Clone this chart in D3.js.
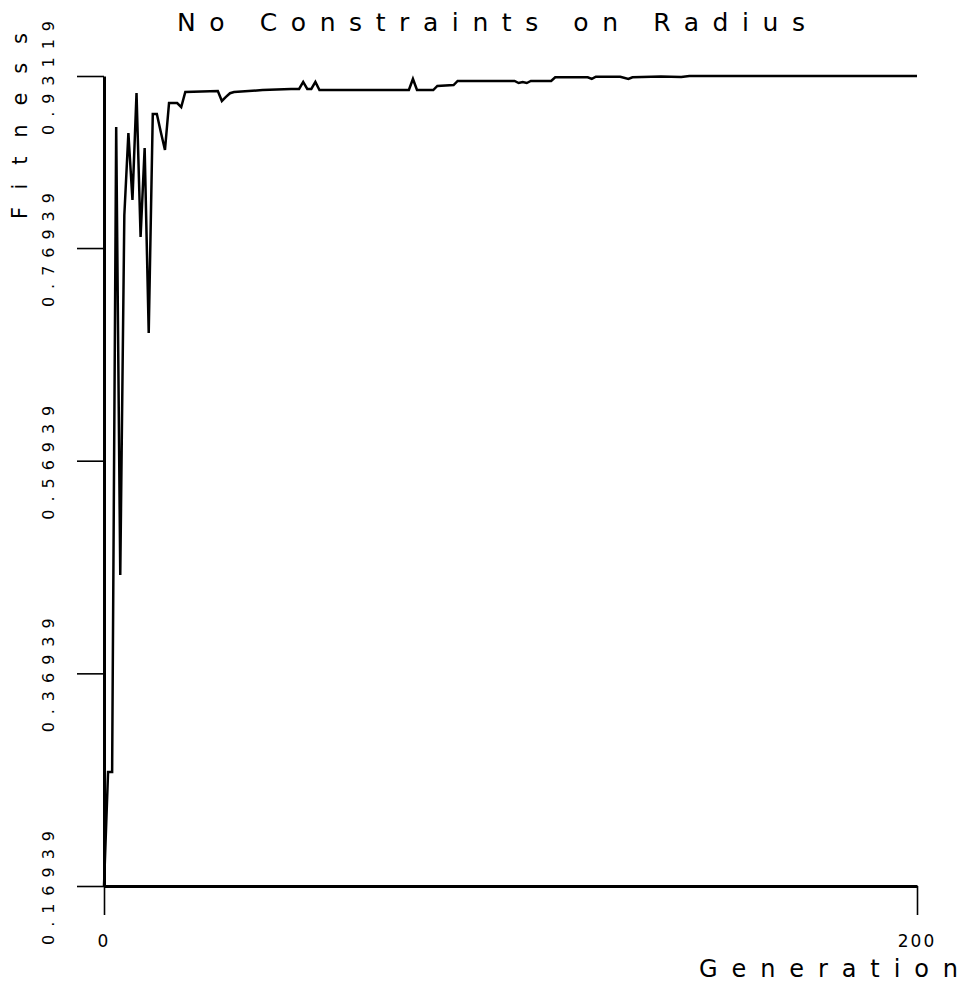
<!DOCTYPE html>
<html>
<head>
<meta charset="utf-8">
<script src="https://cdn.jsdelivr.net/npm/d3@7"></script>
<style>
  body { margin: 0; background: #fff; }
  svg text { font-family: "DejaVu Sans", sans-serif; fill: #000; }
</style>
</head>
<body>
<div class="chart"></div>
<script>
// generation / best fitness
var generations = [0,1,2,3,4,5,6,7,8,9,10,11,12,13,14,15,16,18,19,20,28,29,30,31,32,39,46,48,49,50,51,52,53,
                   75,76,77,81,82,86,87,101,102,103,104,105,110,111,119,120,121,127,129,130,137,142,144,200];
var fitness = [0.1694,0.2766,0.2766,0.8832,0.4619,0.8000,0.8776,0.8146,0.9152,0.7798,0.8635,0.6895,0.8955,0.8955,
               0.8780,0.8616,0.9058,0.9058,0.9020,0.9161,0.9171,0.9077,0.9115,0.9150,0.9161,0.9180,0.9190,0.9190,
               0.9256,0.9190,0.9190,0.9256,0.9180,0.9180,0.9284,0.9180,0.9180,0.9218,0.9227,0.9265,0.9265,0.9246,
               0.9256,0.9246,0.9265,0.9265,0.9300,0.9300,0.9284,0.9305,0.9305,0.9284,0.9300,0.9308,0.9303,0.93119,0.93119];

var yTicks = [0.16939, 0.36939, 0.56939, 0.76939, 0.93119];
var yTickLabels = ["0.16939", "0.36939", "0.56939", "0.76939", "0.93119"];
var xTicks = [0, 200];
var xTickLabels = ["0", "200"];

var svg = d3.select("body div.chart").append("svg").attr("width", 963).attr("height", 992);

var x = d3.scaleLinear()
            .domain([0, 200])
            .range([104, 917]);

var y = d3.scaleLinear()
            .domain([0.16939, 0.93119])
            .range([886, 76]);

// title
svg.append("text")
    .attr("x", 177).attr("y", 31)
    .attr("font-size", "25px")
    .attr("textLength", 628).attr("lengthAdjust", "spacing")
    .text("No Constraints on Radius");

// y axis
var yAxis = svg.append("g")
    .attr("transform", "translate(104,0)")
    .call(d3.axisLeft(y).tickValues(yTicks).tickSize(27).tickSizeOuter(0).tickFormat(""));
yAxis.select(".domain").attr("stroke", "#000").attr("stroke-width", 3);
yAxis.selectAll(".tick line").attr("stroke", "#000").attr("stroke-width", 1.6);

svg.selectAll("text.ylab")
    .data(yTicks)
    .enter().append("text")
        .attr("class", "ylab")
        .attr("transform", function(d) { return "translate(54," + (y(d) + 2) + ") rotate(-90)"; })
        .attr("text-anchor", "middle")
        .attr("font-size", "16px")
        .attr("textLength", 114).attr("lengthAdjust", "spacing")
        .text(function(d, i) { return yTickLabels[i]; });

svg.append("text")
    .attr("transform", "translate(27,126) rotate(-90)")
    .attr("text-anchor", "middle")
    .attr("font-size", "21px")
    .attr("textLength", 186).attr("lengthAdjust", "spacing")
    .text("Fitness");

// x axis
var xAxis = svg.append("g")
    .attr("transform", "translate(0,886)")
    .call(d3.axisBottom(x).tickValues(xTicks).tickSize(29).tickSizeOuter(0).tickFormat(""));
xAxis.select(".domain").attr("stroke", "#000").attr("stroke-width", 3);
xAxis.selectAll(".tick line").attr("stroke", "#000").attr("stroke-width", 1.6);

svg.selectAll("text.xlab")
    .data(xTicks)
    .enter().append("text")
        .attr("class", "xlab")
        .attr("x", function(d) { return x(d); })
        .attr("y", 947)
        .attr("text-anchor", "middle")
        .attr("font-size", "17px")
        .attr("letter-spacing", "2px")
        .text(function(d, i) { return xTickLabels[i]; });

svg.append("text")
    .attr("x", 699).attr("y", 977)
    .attr("font-size", "24px")
    .attr("textLength", 259).attr("lengthAdjust", "spacing")
    .text("Generation");

// fitness line
var line = d3.line()
    .x(function(d, i) { return x(generations[i]); })
    .y(function(d) { return y(d); });

svg.append("path")
    .attr("d", line(fitness))
    .attr("fill", "none")
    .attr("stroke", "#000")
    .attr("stroke-width", 2.5)
    .attr("stroke-linejoin", "miter");
</script>
</body>
</html>
